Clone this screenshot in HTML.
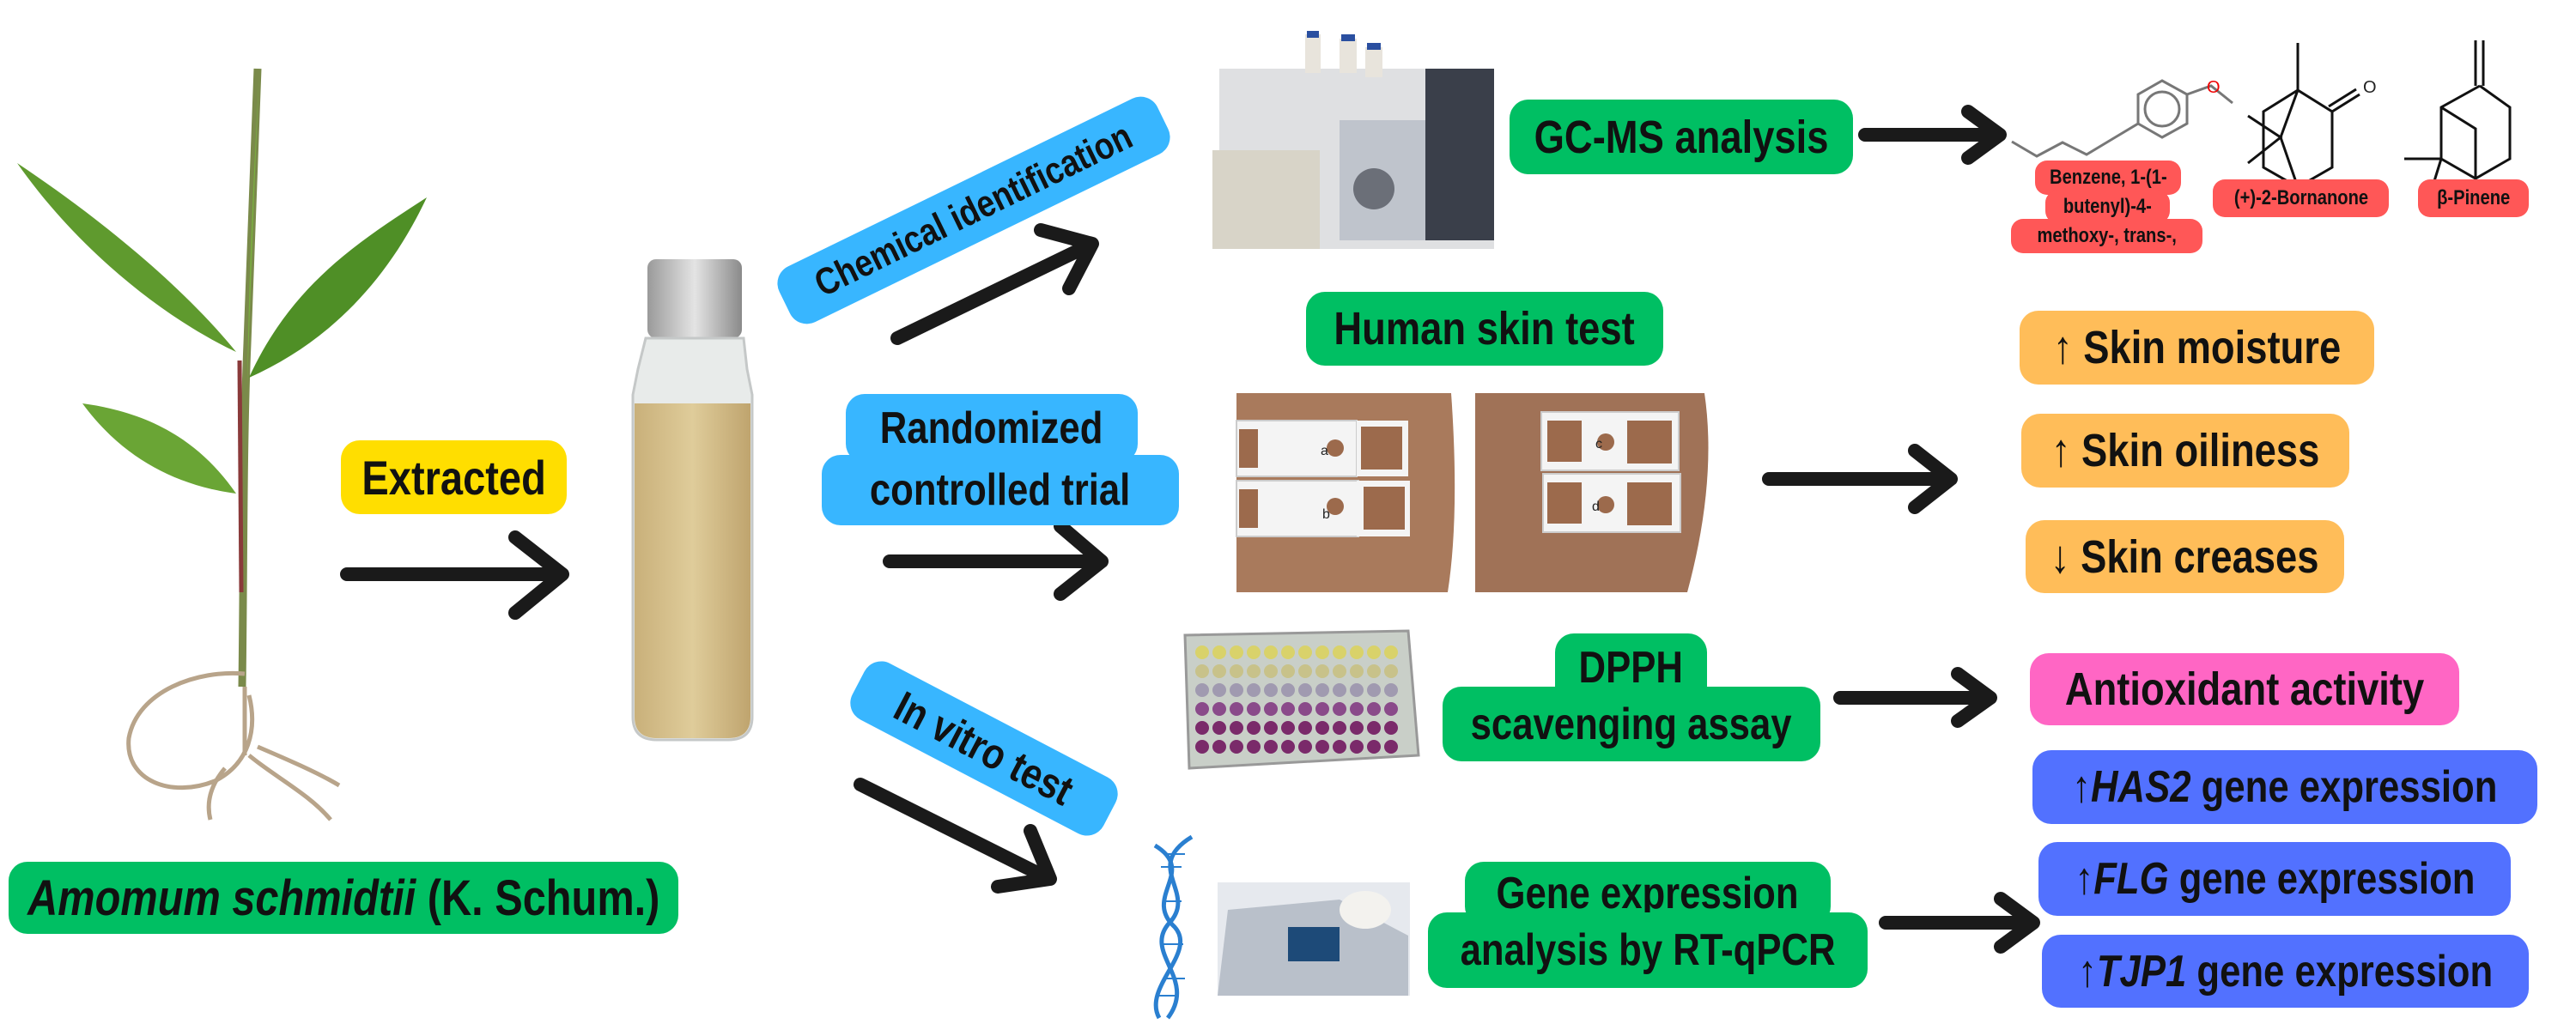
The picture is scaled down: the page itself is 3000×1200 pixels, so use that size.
<!DOCTYPE html>
<html><head><meta charset="utf-8"><style>
html,body{margin:0;padding:0}
body{width:3000px;height:1200px;position:relative;background:#fff;overflow:hidden;font-family:"Liberation Sans",sans-serif;font-weight:bold;color:#111}
.b{position:absolute;border-radius:22px;display:flex;align-items:center;justify-content:center;white-space:nowrap;box-sizing:border-box}
.b span{display:inline-block;transform:scaleX(0.84)}
.g{background:#00bf63}.y{background:#ffde00}.bl{background:#38b6ff}.r{background:#ff5757;border-radius:14px}
.o{background:#ffbd59}.p{background:#ff66c4}.v{background:#5271ff}
svg{position:absolute;left:0;top:0}
</style></head><body>

<svg width="3000" height="1200" viewBox="0 0 3000 1200">
  <!-- plant -->
  <g>
    <path d="M282 800 C284 650 283 520 288 400 C292 280 296 180 300 80" stroke="#7a8a4a" stroke-width="9" fill="none"/>
    <path d="M281 690 L279 420" stroke="#8a3a3a" stroke-width="5" fill="none"/>
    <path d="M275 410 C210 330 110 250 20 190 C90 290 190 370 275 410Z" fill="#5f9a2e"/>
    <path d="M290 440 C340 330 420 280 497 230 C450 330 380 400 290 440Z" fill="#4f8f26"/>
    <path d="M275 575 C230 510 170 480 96 470 C140 530 200 565 275 575Z" fill="#6aa535"/>
    <path d="M288 450 C290 300 296 200 302 80 C296 220 292 330 288 450Z" fill="#7ab040"/>
    <g stroke="#b8a48a" stroke-width="5" fill="none">
      <path d="M285 785 C230 780 160 805 150 860 C145 910 200 930 250 910 C290 890 300 850 290 810"/>
      <path d="M290 880 C320 905 360 925 385 955"/>
      <path d="M262 895 C245 915 240 935 245 955"/>
      <path d="M300 870 C335 885 370 900 395 915"/>
      <path d="M285 800 L285 880"/>
    </g>
  </g>
  <!-- vial -->
  <defs>
    <linearGradient id="liq" x1="0" x2="1"><stop offset="0" stop-color="#c9b07a"/><stop offset=".5" stop-color="#dfcc9a"/><stop offset="1" stop-color="#bfa46e"/></linearGradient>
    <linearGradient id="cap" x1="0" x2="1"><stop offset="0" stop-color="#9a9a9a"/><stop offset=".5" stop-color="#e4e4e4"/><stop offset="1" stop-color="#8a8a8a"/></linearGradient>
  </defs>
  <rect x="754" y="302" width="110" height="92" rx="10" fill="url(#cap)"/>
  <path d="M752 394 L866 394 L870 430 L876 460 L876 835 Q876 862 848 862 L765 862 Q737 862 737 835 L737 460 L743 430Z" fill="#e8ebea" stroke="#c5c8c8" stroke-width="3"/>
  <path d="M739 470 L874 470 L874 835 Q874 860 848 860 L765 860 Q739 860 739 835Z" fill="url(#liq)"/>

  <!-- arrows -->
  <g stroke="#1a1a1a" stroke-width="16" stroke-linecap="round" stroke-linejoin="round" fill="none">
    <path d="M404 669 L652 669 M600 626 L655 669 L600 714"/>
    <path d="M1045 394 L1270 285 M1212 268 L1272 284 L1245 336"/>
    <path d="M1036 654 L1280 654 M1235 613 L1283 654 L1235 692"/>
    <path d="M1002 914 L1220 1023 M1200 968 L1223 1024 L1162 1033"/>
    <path d="M2172 157 L2326 157 M2292 130 L2329 157 L2292 184"/>
    <path d="M2060 558 L2268 558 M2230 525 L2272 558 L2230 591"/>
    <path d="M2143 813 L2314 813 M2280 785 L2318 813 L2280 840"/>
    <path d="M2196 1075 L2364 1075 M2330 1047 L2368 1075 L2330 1103"/>
  </g>

  <!-- GC-MS instrument -->
  <rect x="1420" y="80" width="320" height="210" fill="#dfe0e2"/>
  <rect x="1412" y="175" width="125" height="115" fill="#d8d4c8"/>
  <rect x="1560" y="140" width="160" height="140" fill="#bfc4cc"/>
  <rect x="1660" y="80" width="80" height="200" fill="#3a3f4a"/>
  <circle cx="1600" cy="220" r="24" fill="#6b6f78"/>
  <rect x="1520" y="40" width="18" height="45" fill="#e8e4dc"/><rect x="1560" y="45" width="20" height="40" fill="#e8e4dc"/><rect x="1590" y="55" width="20" height="35" fill="#e8e4dc"/>
  <rect x="1522" y="36" width="14" height="8" fill="#2a4fa0"/><rect x="1562" y="40" width="16" height="8" fill="#2a4fa0"/><rect x="1592" y="50" width="16" height="8" fill="#2a4fa0"/>

  <!-- molecules -->
  <g stroke="#777" stroke-width="3" fill="none">
    <path d="M2343 165 L2372 182 L2402 166 L2430 180 L2460 162 L2490 144 L2490 110 L2518 94 L2547 110 L2547 144 L2518 160 L2490 144"/>
    <circle cx="2518" cy="127" r="20"/>
    <path d="M2547 110 L2575 100 L2600 120"/>
  </g>
  <text x="2570" y="108" font-size="20" fill="#e00" font-weight="normal">O</text>
  <g stroke="#111" stroke-width="3" fill="none">
    <path d="M2676 50 L2676 105 L2716 130 L2716 195 L2676 218 L2636 195 L2636 130 L2676 105 M2676 105 L2656 160 L2676 218 M2618 135 L2656 160 L2618 190 M2716 130 L2748 110 M2712 124 L2744 104"/>
    <path d="M2883 47 L2883 100 M2892 47 L2892 100 M2888 100 L2923 125 L2923 185 L2883 208 L2843 185 L2843 125 L2888 100 M2843 125 L2883 150 L2883 208 M2843 185 L2800 185 M2843 185 L2826 240"/>
  </g>
  <text x="2752" y="108" font-size="20" fill="#222" font-weight="normal">O</text>

  <!-- skin photos -->
  <path d="M1440 458 L1690 458 Q1700 600 1686 690 L1440 690Z" fill="#a97a5c"/>
  <path d="M1718 458 L1985 458 Q2000 560 1965 690 L1718 690Z" fill="#a07257"/>
  <g fill="#f4f4f4" stroke="#ccc" stroke-width="2">
    <rect x="1440" y="490" width="140" height="65"/><rect x="1440" y="560" width="142" height="65"/>
    <rect x="1795" y="480" width="160" height="68"/><rect x="1797" y="552" width="160" height="68"/>
  </g>
  <g fill="#9c6a4c">
    <rect x="1443" y="500" width="22" height="45"/><rect x="1443" y="570" width="22" height="45"/>
    <rect x="1802" y="490" width="40" height="48"/><rect x="1895" y="490" width="52" height="50"/>
    <rect x="1802" y="562" width="40" height="48"/><rect x="1895" y="562" width="52" height="50"/>
    <circle cx="1555" cy="522" r="10"/><circle cx="1555" cy="590" r="10"/><circle cx="1870" cy="515" r="10"/><circle cx="1870" cy="588" r="10"/>
  </g>
  <g fill="#f4f4f4"><rect x="1580" y="490" width="60" height="65"/><rect x="1580" y="560" width="62" height="65"/></g>
  <g fill="#9c6a4c"><rect x="1585" y="497" width="48" height="50"/><rect x="1588" y="567" width="48" height="50"/></g>
  <g font-size="16" font-weight="normal" fill="#222"><text x="1538" y="530">a</text><text x="1540" y="604">b</text><text x="1858" y="522">c</text><text x="1854" y="595">d</text></g>

  <!-- well plate -->
  <path d="M1380 740 L1640 735 L1652 880 L1385 895Z" fill="#c9cfc8" stroke="#999" stroke-width="3"/>

  <!-- DNA -->
  <g stroke="#2a7fd0" stroke-width="5" fill="none">
    <path d="M1388 975 C1330 1010 1395 1040 1362 1075 C1330 1110 1395 1140 1360 1186"/>
    <path d="M1345 985 C1395 1015 1330 1045 1368 1080 C1395 1110 1330 1150 1350 1186"/>
  </g>
  <g stroke="#2a7fd0" stroke-width="2">
    <path d="M1355 995 L1380 995 M1352 1010 L1376 1010 M1358 1050 L1376 1050 M1352 1100 L1378 1100 M1354 1140 L1380 1140 M1350 1160 L1372 1160"/>
  </g>
  <!-- PCR image -->
  <rect x="1418" y="1028" width="224" height="132" fill="#e6e9ee"/>
  <path d="M1430 1060 L1560 1048 L1640 1090 L1640 1160 L1418 1160Z" fill="#b9c0ca"/>
  <rect x="1500" y="1080" width="60" height="40" fill="#1d4a78"/>
  <ellipse cx="1590" cy="1060" rx="30" ry="22" fill="#f3f2ee"/>
</svg>

<div class="b y" style="left:397px;top:513px;width:263px;height:86px;font-size:56px"><span>Extracted</span></div>
<div class="b g" style="left:10px;top:1004px;width:780px;height:84px;font-size:58px"><span><i>Amomum schmidtii</i> (K. Schum.)</span></div>

<div class="b bl" style="left:889px;top:209px;width:490px;height:72px;font-size:44px;transform:rotate(-26deg)"><span>Chemical identification</span></div>
<div class="b bl" style="left:985px;top:459px;width:340px;height:80px;font-size:52px"><span>Randomized</span></div>
<div class="b bl" style="left:957px;top:530px;width:416px;height:82px;font-size:52px"><span>controlled trial</span></div>
<div class="b bl" style="left:981px;top:835px;width:330px;height:74px;font-size:50px;transform:rotate(27.6deg)"><span>In vitro test</span></div>

<div class="b g" style="left:1758px;top:116px;width:400px;height:87px;font-size:54px"><span>GC-MS analysis</span></div>
<div class="b g" style="left:1521px;top:340px;width:416px;height:86px;font-size:54px"><span>Human skin test</span></div>
<div class="b g" style="left:1811px;top:738px;width:177px;height:80px;font-size:52px;border-radius:22px 22px 0 0"><span>DPPH</span></div>
<div class="b g" style="left:1680px;top:800px;width:440px;height:87px;font-size:52px"><span>scavenging assay</span></div>
<div class="b g" style="left:1706px;top:1004px;width:426px;height:74px;font-size:52px"><span>Gene expression</span></div>
<div class="b g" style="left:1663px;top:1063px;width:512px;height:88px;font-size:52px"><span>analysis by RT-qPCR</span></div>

<div class="b r" style="left:2370px;top:187px;width:170px;height:40px;font-size:24px"><span>Benzene, 1-(1-</span></div>
<div class="b r" style="left:2382px;top:222px;width:145px;height:38px;font-size:24px"><span>butenyl)-4-</span></div>
<div class="b r" style="left:2342px;top:255px;width:223px;height:40px;font-size:24px"><span>methoxy-, trans-,</span></div>
<div class="b r" style="left:2577px;top:209px;width:205px;height:44px;font-size:24px"><span>(+)-2-Bornanone</span></div>
<div class="b r" style="left:2816px;top:209px;width:129px;height:44px;font-size:24px"><span>β-Pinene</span></div>

<div class="b o" style="left:2352px;top:362px;width:413px;height:86px;font-size:54px"><span>↑ Skin moisture</span></div>
<div class="b o" style="left:2354px;top:482px;width:382px;height:86px;font-size:54px"><span>↑ Skin oiliness</span></div>
<div class="b o" style="left:2359px;top:606px;width:371px;height:85px;font-size:54px"><span>↓ Skin creases</span></div>
<div class="b p" style="left:2364px;top:761px;width:500px;height:84px;font-size:54px"><span>Antioxidant activity</span></div>
<div class="b v" style="left:2367px;top:874px;width:588px;height:86px;font-size:52px"><span>↑<i>HAS2</i> gene expression</span></div>
<div class="b v" style="left:2374px;top:981px;width:550px;height:86px;font-size:52px"><span>↑<i>FLG</i> gene expression</span></div>
<div class="b v" style="left:2378px;top:1089px;width:567px;height:85px;font-size:52px"><span>↑<i>TJP1</i> gene expression</span></div>

<svg width="3000" height="1200" style="pointer-events:none">
  <g>
    <g fill="#d9d26a"><circle cx="1400" cy="760" r="8"/><circle cx="1420" cy="760" r="8"/><circle cx="1440" cy="760" r="8"/><circle cx="1460" cy="760" r="8"/><circle cx="1480" cy="760" r="8"/><circle cx="1500" cy="760" r="8"/><circle cx="1520" cy="760" r="8"/><circle cx="1540" cy="760" r="8"/><circle cx="1560" cy="760" r="8"/><circle cx="1580" cy="760" r="8"/><circle cx="1600" cy="760" r="8"/><circle cx="1620" cy="760" r="8"/></g>
    <g fill="#c8c28a"><circle cx="1400" cy="782" r="8"/><circle cx="1420" cy="782" r="8"/><circle cx="1440" cy="782" r="8"/><circle cx="1460" cy="782" r="8"/><circle cx="1480" cy="782" r="8"/><circle cx="1500" cy="782" r="8"/><circle cx="1520" cy="782" r="8"/><circle cx="1540" cy="782" r="8"/><circle cx="1560" cy="782" r="8"/><circle cx="1580" cy="782" r="8"/><circle cx="1600" cy="782" r="8"/><circle cx="1620" cy="782" r="8"/></g>
    <g fill="#a09ab0"><circle cx="1400" cy="804" r="8"/><circle cx="1420" cy="804" r="8"/><circle cx="1440" cy="804" r="8"/><circle cx="1460" cy="804" r="8"/><circle cx="1480" cy="804" r="8"/><circle cx="1500" cy="804" r="8"/><circle cx="1520" cy="804" r="8"/><circle cx="1540" cy="804" r="8"/><circle cx="1560" cy="804" r="8"/><circle cx="1580" cy="804" r="8"/><circle cx="1600" cy="804" r="8"/><circle cx="1620" cy="804" r="8"/></g>
    <g fill="#8a4a8a"><circle cx="1400" cy="826" r="8"/><circle cx="1420" cy="826" r="8"/><circle cx="1440" cy="826" r="8"/><circle cx="1460" cy="826" r="8"/><circle cx="1480" cy="826" r="8"/><circle cx="1500" cy="826" r="8"/><circle cx="1520" cy="826" r="8"/><circle cx="1540" cy="826" r="8"/><circle cx="1560" cy="826" r="8"/><circle cx="1580" cy="826" r="8"/><circle cx="1600" cy="826" r="8"/><circle cx="1620" cy="826" r="8"/></g>
    <g fill="#7a2a6a"><circle cx="1400" cy="848" r="8"/><circle cx="1420" cy="848" r="8"/><circle cx="1440" cy="848" r="8"/><circle cx="1460" cy="848" r="8"/><circle cx="1480" cy="848" r="8"/><circle cx="1500" cy="848" r="8"/><circle cx="1520" cy="848" r="8"/><circle cx="1540" cy="848" r="8"/><circle cx="1560" cy="848" r="8"/><circle cx="1580" cy="848" r="8"/><circle cx="1600" cy="848" r="8"/><circle cx="1620" cy="848" r="8"/></g>
    <g fill="#7a2a6a"><circle cx="1400" cy="870" r="8"/><circle cx="1420" cy="870" r="8"/><circle cx="1440" cy="870" r="8"/><circle cx="1460" cy="870" r="8"/><circle cx="1480" cy="870" r="8"/><circle cx="1500" cy="870" r="8"/><circle cx="1520" cy="870" r="8"/><circle cx="1540" cy="870" r="8"/><circle cx="1560" cy="870" r="8"/><circle cx="1580" cy="870" r="8"/><circle cx="1600" cy="870" r="8"/><circle cx="1620" cy="870" r="8"/></g>
  </g>
</svg>
</body></html>
